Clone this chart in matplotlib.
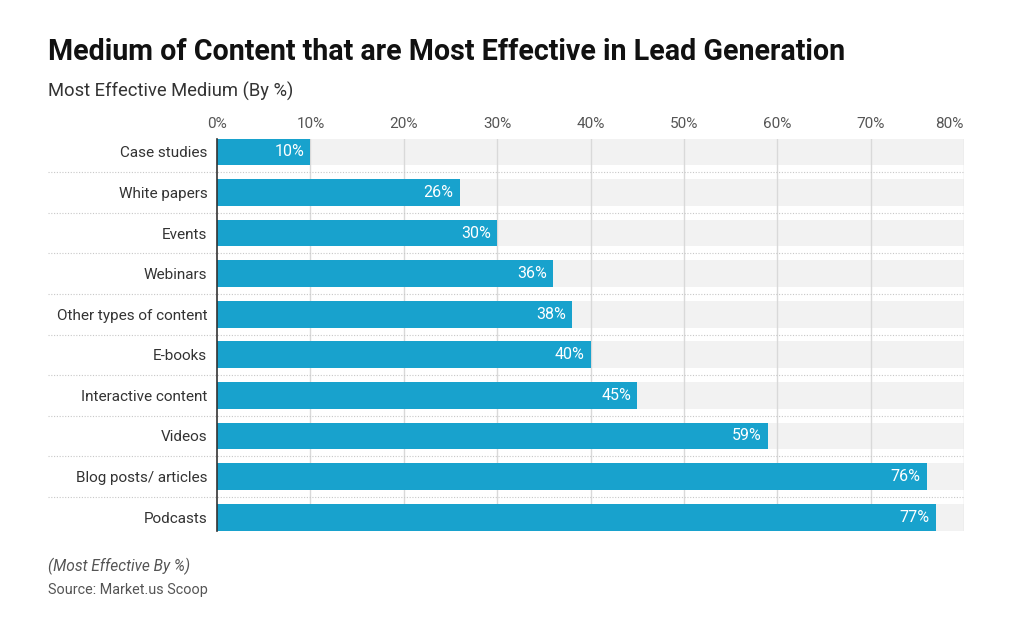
import matplotlib
matplotlib.use("Agg")
import matplotlib.pyplot as plt
import matplotlib.transforms as mtransforms

categories = ["Case studies", "White papers", "Events", "Webinars", "Other types of content",
              "E-books", "Interactive content", "Videos", "Blog posts/ articles", "Podcasts"]
values = [10, 26, 30, 36, 38, 40, 45, 59, 76, 77]
xticks = [0, 10, 20, 30, 40, 50, 60, 70, 80]
xtick_labels = ["0%", "10%", "20%", "30%", "40%", "50%", "60%", "70%", "80%"]

plt.rcParams['font.family'] = ['Roboto', 'DejaVu Sans']

W, H = 1024, 641
fig = plt.figure(figsize=(W/100, H/100), dpi=100)
left, right = 217/W, 964/W
top, bottom = 1 - 138.5/H, 1 - 530.5/H
ax = fig.add_axes([left, bottom, right-left, top-bottom])

bar_h = 0.66
n = len(categories)
ys = list(range(n))
ax.barh(ys, [80]*n, height=bar_h, color="#f2f2f2", zorder=0)
for x in xticks[1:]:
    ax.axvline(x, color="#d9d9d9", lw=1, zorder=1)
ax.barh(ys, values, height=bar_h, color="#18a2cd", zorder=2)
for y, v in zip(ys, values):
    ax.text(v - 0.65, y, f"{v}%", ha="right", va="center", color="white", fontsize=11.5, zorder=3)

ax.set_xlim(0, 80)
ax.set_ylim(n - 1 + bar_h/2, -bar_h/2)
ax.set_yticks(ys)
ax.set_yticklabels(categories, fontsize=11, color="#333333")
ax.set_xticks(xticks)
ax.set_xticklabels(xtick_labels[:-1] + [""], fontsize=11, color="#555555")
ax.xaxis.tick_top()
ax.tick_params(axis="y", length=0, pad=7)
ax.tick_params(axis="x", length=0, pad=5.5)
# last tick label right-aligned to the chart edge
lbl_trans = mtransforms.offset_copy(ax.get_xaxis_transform(), fig=fig, x=0, y=5.5, units="points")
ax.text(xticks[-1], 1.0, xtick_labels[-1], transform=lbl_trans, ha="right", va="bottom",
        fontsize=11, color="#555555")
for s in ["top", "right", "bottom"]:
    ax.spines[s].set_visible(False)
ax.spines["left"].set_color("#333333")
ax.spines["left"].set_linewidth(1.2)
ax.spines["left"].set_zorder(4)

# dotted separators between rows
trans = mtransforms.blended_transform_factory(ax.transAxes, ax.transData)
x0 = (48/W - left) / (right - left)
for i in range(n - 1):
    ax.plot([x0, 1.0], [i + 0.5, i + 0.5], transform=trans, color="#c8c8c8", lw=0.8,
            linestyle=(0, (1, 1.5)), clip_on=False, zorder=1)

fig.text(48/W, 1 - 51.5/H, "Medium of Content that are Most Effective in Lead Generation",
         fontsize=20.6, fontweight="bold", color="#111111", va="center", ha="left")
fig.text(48/W, 1 - 91/H, "Most Effective Medium (By %)", fontsize=13.2, color="#333333",
         va="center", ha="left")
fig.text(48/W, 1 - 566/H, "(Most Effective By %)", fontsize=11.2, style="italic", color="#555555",
         va="center", ha="left")
fig.text(48/W, 1 - 590/H, "Source: Market.us Scoop", fontsize=10.4, color="#555555",
         va="center", ha="left")

fig.savefig("out.png", dpi=100, facecolor="white")
